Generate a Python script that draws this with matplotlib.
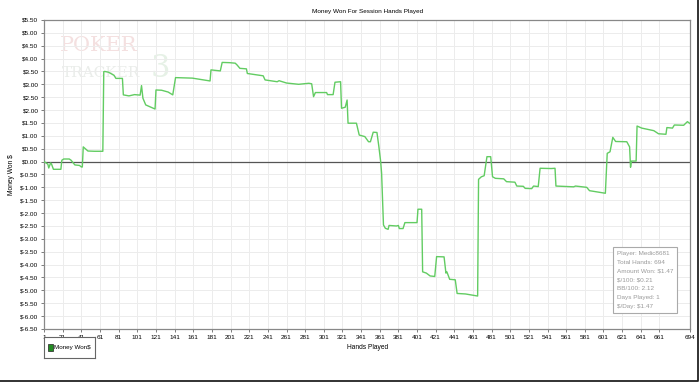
import matplotlib.pyplot as plt
import matplotlib.patches as patches
import matplotlib.lines as mlines

plt.rcParams['font.family'] = ['Liberation Sans', 'DejaVu Sans']

# cumulative winnings (hand number, dollars)
hands = [1, 3, 5, 6, 8, 9, 11, 14, 19, 20, 22, 28, 30, 34, 39, 41, 42,
         43, 48, 55, 64, 65, 66, 70, 76, 78, 85, 86, 92, 98, 104, 105.5, 107,
         110, 120, 121, 127, 134, 139, 142, 150, 160, 170, 179, 180, 190, 192,
         200, 206, 208, 211, 218, 219, 236, 238, 251, 253, 261, 274, 285, 288,
         290, 292, 304, 305, 311, 313, 319, 320, 324, 326, 327, 336, 339, 345,
         349, 351, 354, 358, 360, 362, 363, 365, 367, 370, 371, 379, 381, 382,
         386, 388, 401, 402, 406, 407, 411, 415, 420, 422, 430, 432, 433, 436,
         442, 444, 453, 466, 467, 470, 473, 476, 480, 482, 485, 494, 497, 506,
         508, 515, 517, 524, 526, 531, 533, 545, 549, 550, 569, 571, 583, 586,
         603, 605, 608, 611, 614, 626, 629, 630, 631, 636, 637, 642, 655, 660,
         668, 669, 675, 677, 687, 689, 691, 694]
money = [0.0, -0.05, -0.1, -0.25, -0.05, -0.1, -0.3, -0.3, -0.3, 0.05, 0.1, 0.1, 0.05, -0.13, -0.15, -0.21, -0.21,
         0.57, 0.41, 0.4, 0.4, 3.49, 3.5, 3.47, 3.35, 3.23, 3.23, 2.59, 2.55, 2.6, 2.58, 2.95, 2.46,
         2.2, 2.04, 2.78, 2.77, 2.7, 2.59, 3.26, 3.25, 3.24, 3.18, 3.13, 3.56, 3.52, 3.85,
         3.84, 3.82, 3.75, 3.62, 3.6, 3.42, 3.33, 3.17, 3.1, 3.14, 3.05, 3.0, 3.04, 3.02,
         2.52, 2.68, 2.68, 2.6, 2.6, 3.08, 3.1, 2.07, 2.11, 2.39, 1.49, 1.49, 1.03, 0.97,
         0.77, 0.77, 1.14, 1.13, 0.6, 0.0, -0.45, -2.46, -2.59, -2.63, -2.48, -2.5, -2.48, -2.6,
         -2.6, -2.37, -2.37, -1.85, -1.85, -4.28, -4.33, -4.44, -4.46, -3.69, -3.7, -4.33, -4.28, -4.57,
         -4.59, -5.12, -5.14, -5.22, -0.69, -0.59, -0.55, 0.19, 0.19, -0.59, -0.65, -0.67, -0.78, -0.8,
         -0.95, -0.96, -1.04, -1.05, -0.95, -0.97, -0.26, -0.27, -0.26, -0.95, -0.98, -0.95, -1.0, -1.13,
         -1.23, 0.32, 0.38, 0.94, 0.78, 0.77, 0.57, -0.22, 0.02, 0.02, 1.38, 1.3, 1.2, 1.08,
         1.06, 1.32, 1.3, 1.42, 1.41, 1.48, 1.55, 1.47]

x_ticks = list(range(1, 662, 20)) + [694]
y_ticks = [v / 2 for v in range(-13, 12)]
stats = ["Player: Medic8681", "Total Hands: 694", "Amount Won: \\$1.47",
         "\\$/100: \\$0.21", "BB/100: 2.12", "Days Played: 1", "\\$/Day: \\$1.47"]

fig = plt.figure(figsize=(7, 3.83), dpi=100)
ax = fig.add_axes([0.063, 0.141, 0.923, 0.807])

# faint watermark logo
ax.text(0.025, 0.90, "POKER", transform=ax.transAxes, fontsize=15, family="DejaVu Serif",
        color="#f4e0e0", zorder=0)
ax.text(0.028, 0.815, "TRACKER", transform=ax.transAxes, fontsize=11, family="DejaVu Serif",
        color="#eaedea", zorder=0)
ax.text(0.165, 0.815, "3", transform=ax.transAxes, fontsize=22, family="DejaVu Serif",
        color="#e6f1e6", zorder=0)

ax.axhline(0, color="#555555", lw=0.9, zorder=2)
ax.plot(hands, money, color="#62cc62", lw=1.0, label="Money Won$", zorder=3)

ax.set_xlim(1, 694)
ax.set_ylim(-6.5, 5.5)
ax.set_xticks(x_ticks)
ax.set_yticks(y_ticks)
ax.set_yticklabels(["$%.2f" % v if v >= 0 else "$-%.2f" % -v for v in y_ticks])
ax.tick_params(labelsize=4.6, length=2, width=0.6, color="#666666", pad=2)
ax.grid(True, color="#ececec", lw=0.7)
ax.set_axisbelow(True)
for s in ax.spines.values():
    s.set_color("#888888")
    s.set_linewidth(0.9)

ax.set_title("Money Won For Session Hands Played", fontsize=4.6, pad=5)
ax.set_xlabel("Hands Played", fontsize=4.8, labelpad=3)
ax.set_ylabel("Money Won $", fontsize=4.8, labelpad=4)

# stats box
ax.text(0.886, 0.252, "\n".join(stats), transform=ax.transAxes, fontsize=4.6,
        color="#9a9a9a", va="top", ha="left", linespacing=1.95,
        bbox=dict(boxstyle="square,pad=0.6", fc="white", ec="#aaaaaa", lw=0.8))

# legend box below the plot
leg_ax = fig.add_axes([0.063, 0.065, 0.073, 0.055])
leg_ax.set_xticks([])
leg_ax.set_yticks([])
for s in leg_ax.spines.values():
    s.set_color("#666666")
    s.set_linewidth(0.8)
leg_ax.add_patch(patches.Rectangle((0.07, 0.35), 0.1, 0.3, fc="#228b22", ec="#222222", lw=0.5,
                                   transform=leg_ax.transAxes))
leg_ax.text(0.2, 0.5, "Money Won$", fontsize=4.5, va="center", transform=leg_ax.transAxes)

# window edge on the right and bottom
fig.lines.append(mlines.Line2D([0, 0.997, 0.997], [0.004, 0.004, 1], transform=fig.transFigure,
                               color="#222222", lw=1.3))

fig.savefig("out.png", dpi=100)
